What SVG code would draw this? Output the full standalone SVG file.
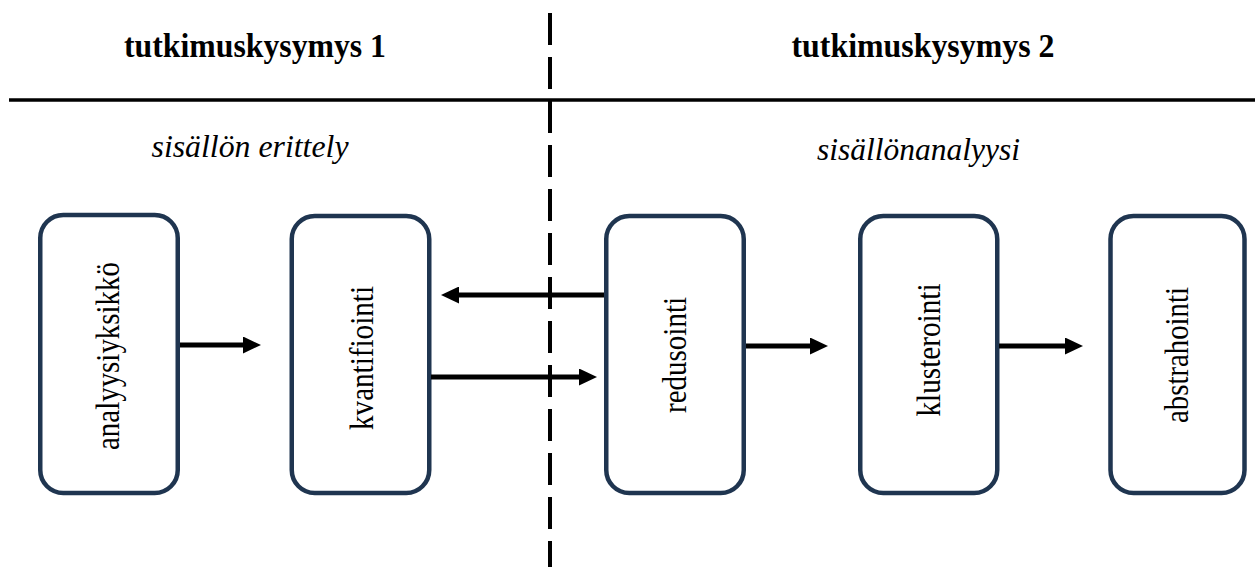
<svg xmlns="http://www.w3.org/2000/svg" width="1255" height="567" viewBox="0 0 1255 567">
  <style>
    .box { fill: #ffffff; stroke: #1f3550; stroke-width: 4.5; }
    .label { font-family: "Liberation Serif", "Times New Roman", serif; font-size: 34px; fill: #000; text-anchor: middle; }
    .head { font-family: "Liberation Serif", "Times New Roman", serif; font-size: 33px; font-weight: bold; fill: #000; text-anchor: middle; }
    .sub { font-family: "Liberation Serif", "Times New Roman", serif; font-size: 31px; font-style: italic; fill: #000; text-anchor: middle; }
    .rule { stroke: #000; stroke-width: 3.5; fill: none; }
    .divider { stroke: #000; stroke-width: 4; stroke-dasharray: 32 12; fill: none; }
    .conn { stroke: #000; stroke-width: 5; fill: none; marker-end: url(#arrow); }
  </style>
  <defs>
    <marker id="arrow" viewBox="0 0 18 17" refX="1" refY="8.5" markerWidth="18" markerHeight="17" markerUnits="userSpaceOnUse" orient="auto">
      <path d="M0,0 L18,8.5 L0,17 Z" fill="#000"/>
    </marker>
  </defs>

  <rect width="1255" height="567" fill="#ffffff"/>

  <!-- page structure: header rule and dashed split between the two questions -->
  <g id="layout">
    <line class="rule" x1="9" y1="100" x2="1255" y2="100"/>
    <line class="divider" x1="550" y1="13" x2="550" y2="567"/>
  </g>

  <g id="headings">
    <text class="head" x="255" y="57" textLength="262" lengthAdjust="spacingAndGlyphs">tutkimuskysymys 1</text>
    <text class="head" x="923" y="57" textLength="263" lengthAdjust="spacingAndGlyphs">tutkimuskysymys 2</text>
    <text class="sub" x="250" y="157" textLength="197" lengthAdjust="spacingAndGlyphs">sisällön erittely</text>
    <text class="sub" x="918.5" y="160" textLength="203" lengthAdjust="spacingAndGlyphs">sisällönanalyysi</text>
  </g>

  <g id="node-analyysiyksikko">
    <rect class="box" x="40.25" y="215" width="137.5" height="278" rx="23"/>
    <text class="label" transform="translate(109,356) rotate(-90)" x="0" y="10" textLength="188" lengthAdjust="spacingAndGlyphs">analyysiyksikkö</text>
  </g>

  <g id="node-kvantifiointi">
    <rect class="box" x="291.75" y="216" width="137.5" height="277" rx="23"/>
    <text class="label" transform="translate(361,358) rotate(-90)" x="0" y="12" textLength="144" lengthAdjust="spacingAndGlyphs">kvantifiointi</text>
  </g>

  <g id="node-redusointi">
    <rect class="box" x="606.25" y="216" width="137.5" height="277" rx="23"/>
    <text class="label" transform="translate(675,355) rotate(-90)" x="0" y="11" textLength="116" lengthAdjust="spacingAndGlyphs">redusointi</text>
  </g>

  <g id="node-klusterointi">
    <rect class="box" x="860.25" y="216" width="137" height="277" rx="23"/>
    <text class="label" transform="translate(928.5,350) rotate(-90)" x="0" y="11" textLength="133" lengthAdjust="spacingAndGlyphs">klusterointi</text>
  </g>

  <g id="node-abstrahointi">
    <rect class="box" x="1110.5" y="216" width="134" height="277" rx="23"/>
    <text class="label" transform="translate(1177.5,355) rotate(-90)" x="0" y="10" textLength="136" lengthAdjust="spacingAndGlyphs">abstrahointi</text>
  </g>

  <g id="connectors">
    <path class="conn" d="M180,345 H244"/>
    <path class="conn" d="M604,295 H458"/>
    <path class="conn" d="M431,377 H580"/>
    <path class="conn" d="M746,346 H811"/>
    <path class="conn" d="M999,346 H1066"/>
  </g>
</svg>
